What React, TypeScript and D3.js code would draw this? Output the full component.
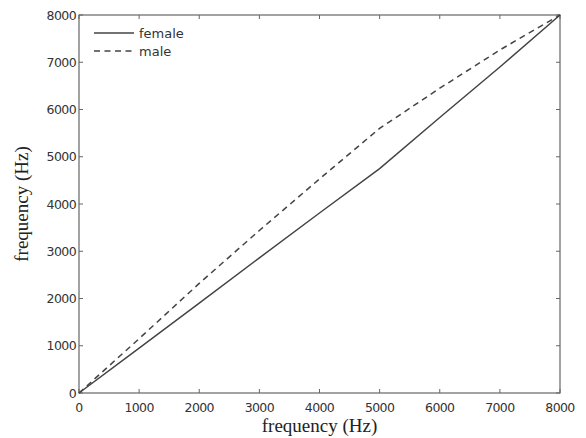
import React from "react";
import * as d3 from "d3";

const xTicks = [0, 1000, 2000, 3000, 4000, 5000, 6000, 7000, 8000];
const yTicks = [0, 1000, 2000, 3000, 4000, 5000, 6000, 7000, 8000];
const inputFreq = [0, 1000, 2000, 3000, 4000, 5000, 6000, 7000, 8000];
const femaleValues = [0, 950, 1900, 2860, 3810, 4750, 5830, 6900, 8000];
const maleValues = [0, 1150, 2320, 3440, 4530, 5600, 6450, 7260, 8000];
const seriesNames = ["female", "male"];

const W = 586, H = 438;
const M = { left: 79, right: 560, top: 15, bottom: 393 };

export default function App() {
  const x = d3.scaleLinear().domain([0, 8000]).range([M.left, M.right]);
  const y = d3.scaleLinear().domain([0, 8000]).range([M.bottom, M.top]);
  const line = d3.line<number>().x((_, i) => x(inputFreq[i])).y((d) => y(d));
  const axisColor = "#666";
  const lineColor = "#444";
  const tickFont = "DejaVu Sans, sans-serif";
  return (
    <svg width={W} height={H} style={{ position: "absolute", left: 0, top: 0, background: "#fff" }}>
      <rect x={M.left} y={M.top} width={M.right - M.left} height={M.bottom - M.top} fill="none" stroke={axisColor} strokeWidth={1.2} />
      {xTicks.map((t) => (
        <g key={"x" + t}>
          <line x1={x(t)} x2={x(t)} y1={M.bottom} y2={M.bottom - 4} stroke={axisColor} />
          <line x1={x(t)} x2={x(t)} y1={M.top} y2={M.top + 4} stroke={axisColor} />
          <text x={x(t)} y={M.bottom + 19} textAnchor="middle" fontFamily={tickFont} fontSize={12.5} fill="#333" letterSpacing={-0.6}>{t}</text>
        </g>
      ))}
      {yTicks.map((t) => (
        <g key={"y" + t}>
          <line x1={M.left} x2={M.left + 4} y1={y(t)} y2={y(t)} stroke={axisColor} />
          <line x1={M.right} x2={M.right - 4} y1={y(t)} y2={y(t)} stroke={axisColor} />
          <text x={M.left - 3} y={y(t) + 4.5} textAnchor="end" fontFamily={tickFont} fontSize={12.5} fill="#333" letterSpacing={-0.6}>{t}</text>
        </g>
      ))}
      <path d={line(femaleValues) || ""} fill="none" stroke={lineColor} strokeWidth={1.5} />
      <path d={line(maleValues) || ""} fill="none" stroke={lineColor} strokeWidth={1.5} strokeDasharray="6,4.5" />
      <g>
        <line x1={94} x2={134} y1={33} y2={33} stroke={lineColor} strokeWidth={1.5} />
        <text x={139} y={38} fontFamily={tickFont} fontSize={13} fill="#333">{seriesNames[0]}</text>
        <line x1={94} x2={134} y1={51} y2={51} stroke={lineColor} strokeWidth={1.5} strokeDasharray="6,4.5" />
        <text x={139} y={56} fontFamily={tickFont} fontSize={13} fill="#333">{seriesNames[1]}</text>
      </g>
      <text x={(M.left + M.right) / 2} y={432} textAnchor="middle" fontFamily="Liberation Serif, Times New Roman, serif" fontSize={19} fill="#222">frequency (Hz)</text>
      <text transform={`translate(28, ${(M.top + M.bottom) / 2}) rotate(-90)`} textAnchor="middle" fontFamily="Liberation Serif, Times New Roman, serif" fontSize={19} fill="#222">frequency (Hz)</text>
    </svg>
  );
}
